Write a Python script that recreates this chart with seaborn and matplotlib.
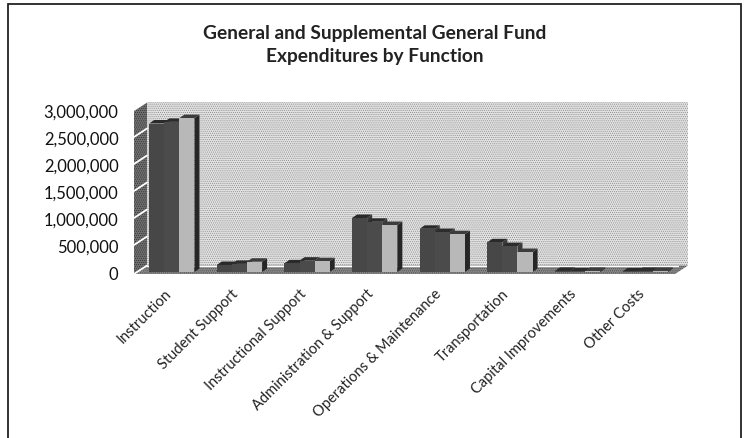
import matplotlib
matplotlib.use("Agg")
import matplotlib.pyplot as plt
import pandas as pd
import seaborn as sns
from matplotlib.patches import Polygon, Rectangle
from matplotlib.transforms import ScaledTranslation

categories = ["Instruction", "Student Support", "Instructional Support",
              "Administration & Support", "Operations & Maintenance",
              "Transportation", "Capital Improvements", "Other Costs"]
series_a = [2750000, 130000, 160000, 1000000, 800000, 550000, 20000, 10000]
series_b = [2780000, 150000, 210000, 930000, 740000, 480000, 10000, 20000]
series_c = [2850000, 190000, 200000, 870000, 700000, 370000, 20000, 20000]
series_names = ["A", "B", "C"]
ticks = [0, 500000, 1000000, 1500000, 2000000, 2500000, 3000000]
title_lines = "General and Supplemental General Fund\nExpenditures by Function"

W, H = 744, 439
sns.set_theme(style="white")
plt.rcParams["font.family"] = ["Lato", "DejaVu Sans"]
plt.rcParams["hatch.linewidth"] = 0.5

df = pd.DataFrame({
    "cat": categories * 3,
    "series": sum([[n] * len(categories) for n in series_names], []),
    "value": series_a + series_b + series_c,
})

fig = plt.figure(figsize=(W / 100, H / 100), dpi=100, facecolor="white")
L, R, Y0, Y1 = 138, 679, 273, 111
ax = fig.add_axes([L / W, 1 - Y0 / H, (R - L) / W, (Y0 - Y1) / H])
ax.patch.set_visible(False)
sns.barplot(data=df, x="cat", y="value", hue="series", order=categories,
            hue_order=series_names, palette=["#474747", "#4b4b4b", "#b8b8b8"],
            width=0.67, gap=0, saturation=1, legend=False, ax=ax, zorder=3,
            linewidth=0)
ax.set_xlim(-0.5, 7.5)
ax.set_ylim(0, 3000000)
for s in ax.spines.values():
    s.set_visible(False)

ux = len(categories) / (R - L)
uy = 3000000 / (Y0 - Y1)


def poly(pts, color, z, hatch=None, hatch_color="none"):
    ax.add_patch(Polygon(pts, closed=True, facecolor=color, edgecolor=hatch_color,
                         hatch=hatch, lw=0, zorder=z, clip_on=False))


# back wall, side wall and floor of the 3D box
x0 = -0.5 - 4 * ux
x1 = 7.5 - 4 * ux
dx, dy = 13 * ux, 8.5 * uy
base = -2 * uy
top = 3000000
poly([(x0 + dx, base + dy), (x1 + dx, base + dy), (x1 + dx, top + dy), (x0 + dx, top + dy)],
     "#e2e2e2", 1, "........", "#8f8f8f")
poly([(x0, base), (x0 + dx, base + dy), (x0 + dx, top + dy), (x0, top)],
     "#707070", 1.1, "........", "#333333")
poly([(x0, base), (x1, base), (x1 + dx, base + dy), (x0 + dx, base + dy)],
     "#8a8a8a", 1.2, "........", "#444444")
for t in ticks:
    y = t - 2 * uy if t == 0 else t
    ax.plot([x0, x0 + dx], [y, y + dy], color="white", lw=1.3, zorder=1.3, clip_on=False)
ax.plot([x0 + dx, x1 + dx], [base + dy, base + dy], color="white", lw=1, zorder=1.3)

# depth faces computed from each bar drawn by seaborn
ddx, ddy = 5 * ux, 3.5 * uy
for k, cont in enumerate(ax.containers):
    top_c = ["#2a2a2a", "#2c2c2c", "#3c3c3c"][k]
    side_c = ["#3a3a3a", "#3a3a3a", "#262626"][k]
    for b in cont:
        xa, w, h = b.get_x(), b.get_width(), b.get_height()
        z = 3 + k * 0.2
        poly([(xa + w, 0), (xa + w + ddx, ddy), (xa + w + ddx, h + ddy), (xa + w, h)], side_c, z)
        poly([(xa, h), (xa + w, h), (xa + w + ddx, h + ddy), (xa + ddx, h + ddy)], top_c, z)
        b.set_zorder(z + 0.1)

ax.set_yticks(ticks)
ax.set_yticklabels([f"{t:,}" for t in ticks], fontsize=11.9, color="#111111")
ax.tick_params(axis="y", length=0, pad=14)
ax.set_xlabel("")
ax.set_ylabel("")
ax.set_xticks(range(len(categories)))
ax.set_xticklabels(categories, rotation=45, ha="right", rotation_mode="anchor",
                   fontsize=10.5, color="#222222")
ax.tick_params(axis="x", length=0, pad=10)
shift = ScaledTranslation(-8 / 100, 0, fig.dpi_scale_trans)
for lab in ax.get_xticklabels():
    lab.set_transform(lab.get_transform() + shift)

fig.text(375 / W, 1 - 45 / H, title_lines, ha="center", va="center", fontsize=13.8,
         fontweight="bold", color="#222222", linespacing=1.45)
fig.add_artist(Rectangle((8 / W, 1 - 460 / H), 733 / W, 455 / H, transform=fig.transFigure,
                         facecolor="none", edgecolor="#222222", lw=1.3))
fig.savefig("out.png", dpi=100)
